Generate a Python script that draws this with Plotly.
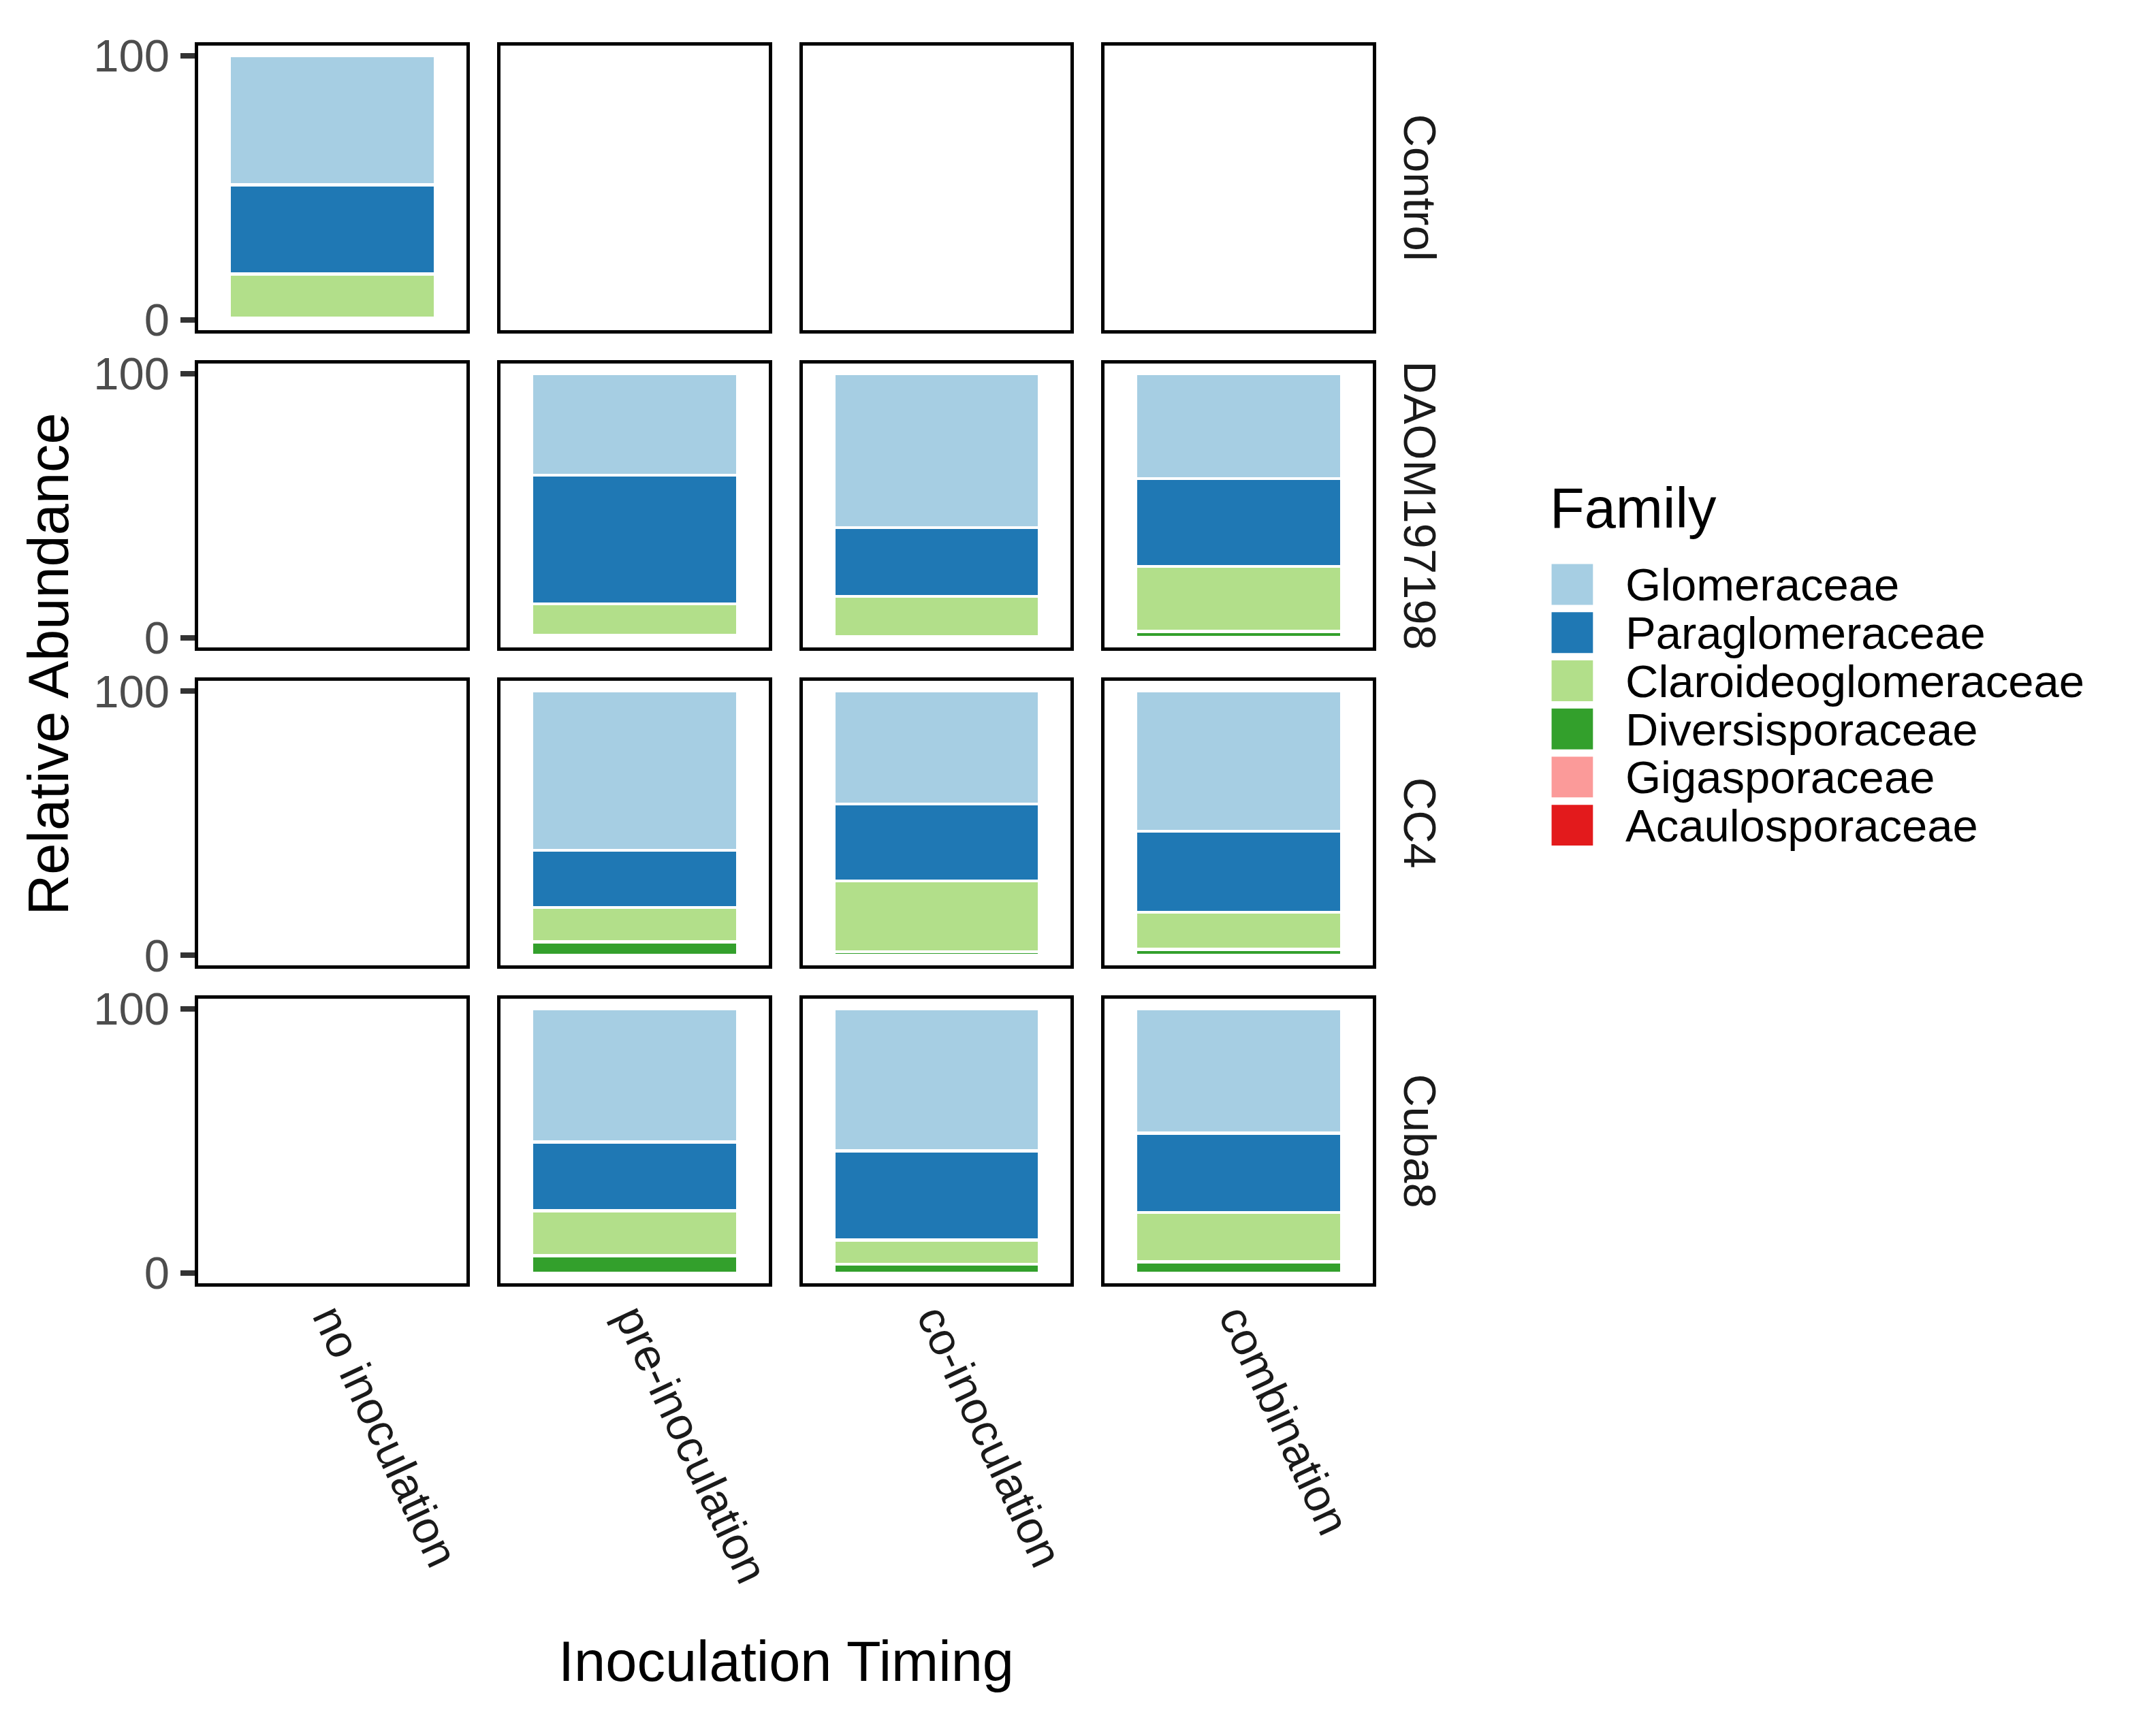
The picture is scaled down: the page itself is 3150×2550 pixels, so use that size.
import plotly.graph_objects as go

# facet levels
STRAINS = ["Control", "DAOM197198", "CC4", "Cuba8"]
TIMINGS = ["no inoculation", "pre-inoculation", "co-inoculation", "combination"]

# one entry per bar (strain x timing combination that exists)
SAMPLE_STRAIN = ["Control",
                 "DAOM197198", "DAOM197198", "DAOM197198",
                 "CC4", "CC4", "CC4",
                 "Cuba8", "Cuba8", "Cuba8"]
SAMPLE_TIMING = ["no inoculation",
                 "pre-inoculation", "co-inoculation", "combination",
                 "pre-inoculation", "co-inoculation", "combination",
                 "pre-inoculation", "co-inoculation", "combination"]

FAMILIES = ["Glomeraceae", "Paraglomeraceae", "Claroideoglomeraceae",
            "Diversisporaceae", "Gigasporaceae", "Acaulosporaceae"]
FAMILY_COLORS = ["#A6CEE3", "#1F78B4", "#B2DF8A", "#33A02C", "#FB9A99", "#E31A1C"]

# relative abundance (%)
GLOMERACEAE = [48.8, 38.5, 58.3, 39.8, 60.3, 42.7, 53.0, 50.4, 53.8, 47.1]
PARAGLOMERACEAE = [33.8, 48.7, 26.1, 33.2, 21.6, 29.2, 30.7, 26.1, 33.7, 30.0]
CLAROIDEOGLOMERACEAE = [16.6, 11.9, 15.3, 24.6, 13.0, 26.8, 14.1, 17.0, 9.2, 18.7]
DIVERSISPORACEAE = [0.0, 0.0, 0.0, 2.4, 5.1, 1.3, 2.2, 6.5, 3.3, 4.2]
GIGASPORACEAE = [0.0, 0.0, 0.0, 0.0, 0.0, 0.0, 0.0, 0.0, 0.0, 0.0]
ACAULOSPORACEAE = [0.0, 0.0, 0.0, 0.0, 0.0, 0.0, 0.0, 0.0, 0.0, 0.0]
# small remainder at the bottom of some bars that shows as white
UNASSIGNED = [0.8, 0.9, 0.3, 0.0, 0.0, 0.0, 0.0, 0.0, 0.0, 0.0]

ABUNDANCE = dict(zip(FAMILIES, [GLOMERACEAE, PARAGLOMERACEAE, CLAROIDEOGLOMERACEAE,
                                DIVERSISPORACEAE, GIGASPORACEAE, ACAULOSPORACEAE]))

W, H = 3150, 2550
FONT = "Liberation Sans, Arial, sans-serif"

# facet panels (outer box, px); the border sits inside the panel like ggplot's,
# so the plotly plot area is inset by the border so its outside-drawn line lands there
PANEL_LEFT = [287.7, 733.2, 1178.7, 1624.2]
PANEL_TOP = [40.25, 515.25, 990.25, 1465.25]
PANEL_W, PANEL_H = 405.0, 434.5
BORDER = 4.5
INSET = 4.75
X_PAD, Y_PAD = 0.6, 5.0          # ggplot default expansion


def axis_suffix(row, col):
    n = row * 4 + col + 1
    return "" if n == 1 else str(n)


fig = go.Figure()

# stack bottom -> top: remainder, then families in reverse legend order
stack = [("Unassigned", UNASSIGNED, "white")] + \
    [(f, ABUNDANCE[f], c) for f, c in zip(FAMILIES[::-1], FAMILY_COLORS[::-1])]

filled = set()
for i in range(len(SAMPLE_STRAIN)):
    row = STRAINS.index(SAMPLE_STRAIN[i])
    col = TIMINGS.index(SAMPLE_TIMING[i])
    filled.add((row, col))
    s = axis_suffix(row, col)
    for name, values, color in stack:
        fig.add_trace(go.Bar(
            x=[col], y=[values[i]], width=0.9, name=name,
            marker=dict(color=color, line=dict(color="white", width=4.5)),
            xaxis="x" + s, yaxis="y" + s, showlegend=False,
        ))

# empty facets still need a trace so their panel gets drawn
for row in range(4):
    for col in range(4):
        if (row, col) not in filled:
            s = axis_suffix(row, col)
            fig.add_trace(go.Scatter(x=[], y=[], xaxis="x" + s, yaxis="y" + s,
                                     showlegend=False, hoverinfo="skip"))

dx = INSET * (2 * X_PAD) / PANEL_W
dy = INSET * (100 + 2 * Y_PAD) / PANEL_H

layout = {}
for row in range(4):
    for col in range(4):
        s = axis_suffix(row, col)
        x0 = (PANEL_LEFT[col] + INSET) / W
        x1 = (PANEL_LEFT[col] + PANEL_W - INSET) / W
        y1 = 1 - (PANEL_TOP[row] + INSET) / H
        y0 = 1 - (PANEL_TOP[row] + PANEL_H - INSET) / H
        layout["xaxis" + s] = dict(
            visible=True, type="linear",
            domain=[x0, x1], anchor="y" + s,
            range=[col - X_PAD + dx, col + X_PAD - dx],
            tickvals=[col], ticktext=[TIMINGS[col]], showticklabels=(row == 3),
            ticks="", tickangle=65, ticklabelstandoff=-18,
            tickfont=dict(family=FONT, size=67, color="#1A1A1A"),
            showline=True, mirror=True, linecolor="black", linewidth=BORDER,
            showgrid=False, zeroline=False, fixedrange=True,
        )
        layout["yaxis" + s] = dict(
            visible=True, type="linear",
            domain=[y0, y1], anchor="x" + s,
            range=[-Y_PAD + dy, 100 + Y_PAD - dy],
            tickvals=[0, 100], showticklabels=(col == 0),
            ticks="outside" if col == 0 else "", ticklen=21, tickwidth=8,
            tickcolor="#333333", ticklabelstandoff=3,
            tickfont=dict(family=FONT, size=67, color="#4D4D4D"),
            showline=True, mirror=True, linecolor="black", linewidth=BORDER,
            showgrid=False, zeroline=False, fixedrange=True,
        )

annotations = []
# strip labels on the right
for row, strain in enumerate(STRAINS):
    annotations.append(dict(
        text=strain, xref="paper", yref="paper",
        x=2094 / W, y=1 - (PANEL_TOP[row] + PANEL_H / 2) / H,
        xanchor="center", yanchor="middle", textangle=90, showarrow=False,
        font=dict(family=FONT, size=67, color="#1A1A1A"),
    ))

# axis titles
annotations.append(dict(
    text="Relative Abundance", xref="paper", yref="paper",
    x=72 / W, y=1 - 970 / H, xanchor="center", yanchor="middle",
    textangle=-90, showarrow=False, font=dict(family=FONT, size=83, color="black"),
))
annotations.append(dict(
    text="Inoculation Timing", xref="paper", yref="paper",
    x=1159 / W, y=1 - 2461 / H, xanchor="center", yanchor="middle",
    showarrow=False, font=dict(family=FONT, size=83, color="black"),
))

# legend drawn by hand so the keys can be as large as in the original
shapes = []
annotations.append(dict(
    text="Family", xref="paper", yref="paper",
    x=2283 / W, y=1 - 736 / H, xanchor="left", yanchor="middle",
    showarrow=False, font=dict(family=FONT, size=83, color="black"),
))
for k, (fam, color) in enumerate(zip(FAMILIES, FAMILY_COLORS)):
    top = 820 + 72 * k
    shapes.append(dict(
        type="rect", xref="paper", yref="paper",
        x0=2288 / W, x1=2349 / W, y0=1 - (top + 61) / H, y1=1 - top / H,
        fillcolor=color, line=dict(width=0),
    ))
    annotations.append(dict(
        text=fam, xref="paper", yref="paper",
        x=2395 / W, y=1 - (top + 31) / H, xanchor="left", yanchor="middle",
        showarrow=False, font=dict(family=FONT, size=67, color="black"),
    ))

fig.update_layout(
    **layout,
    barmode="stack",
    width=W, height=H,
    margin=dict(l=0, r=0, t=0, b=0),
    paper_bgcolor="white", plot_bgcolor="white",
    annotations=annotations, shapes=shapes,
    showlegend=False,
    font=dict(family=FONT),
)

# keep the page exactly the figure size (no default body margin), no toolbar
fig.write_html("out.html",
               config={"displayModeBar": False},
               post_script="document.body.style.margin='0px';"
                           "document.body.style.overflow='hidden';")
